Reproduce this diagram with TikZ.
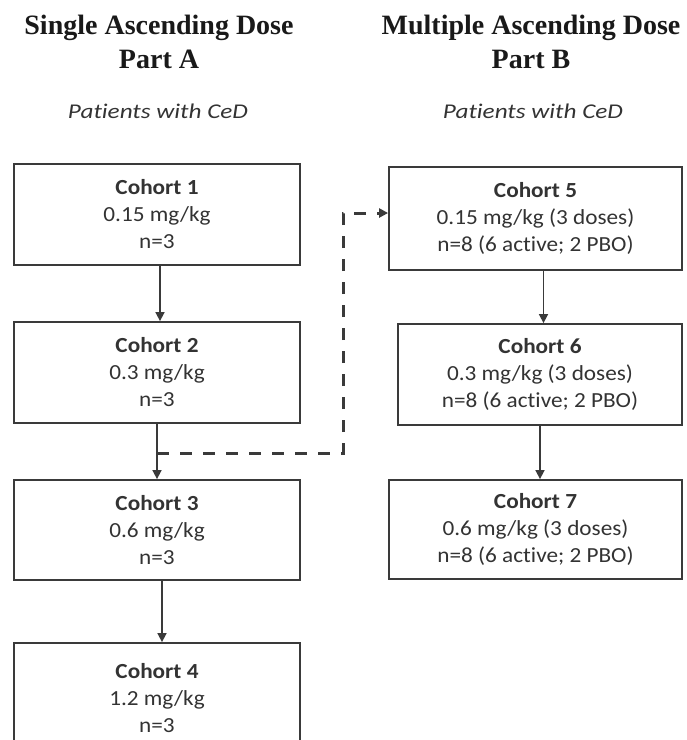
\documentclass[tikz,border=0pt]{standalone}
\usepackage{fontspec}
\setmainfont{Carlito}[FakeStretch=1.08, Ligatures=NoCommon]
\newfontfamily\subfont{Carlito}[FakeStretch=1.2, Ligatures=NoCommon]
\newfontfamily\headfont{Liberation Serif}
\usetikzlibrary{arrows.meta}
\definecolor{boxline}{HTML}{3A3A3A}
\definecolor{txt}{HTML}{333333}
\begin{document}
\begin{tikzpicture}[x=1pt,y=-1pt,
  cohort/.style={draw=boxline, line width=1.8pt, fill=white, align=center, text=txt,
    font=\fontsize{21.5}{27}\selectfont, inner sep=0pt},
  heading/.style={anchor=base, font=\headfont\bfseries\fontsize{28}{32}\selectfont, text=black!90},
  sub/.style={anchor=base, font=\subfont\itshape\fontsize{21}{24}\selectfont, text=txt},
  arr/.style={draw=boxline, line width=1.6pt, -{Triangle[length=9pt,width=9pt]}},
  dashline/.style={draw=boxline, line width=3pt, dash pattern=on 12pt off 11pt, -{Triangle[length=9pt,width=9pt]}}]
\useasboundingbox (0,0) rectangle (687,740);
\clip (0,0) rectangle (687,740);
% headings
\node[heading] (hA1) at (159,34) {Single Ascending Dose};
\node[heading] (hA2) at (159,68) {Part A};
\node[heading] (hB1) at (531,34) {Multiple Ascending Dose};
\node[heading] (hB2) at (531,68) {Part B};
\node[sub] (sA) at (158,118) {Patients with CeD};
\node[sub] (sB) at (533,118) {Patients with CeD};
% Part A cohorts
\node[cohort, minimum width=286pt, minimum height=101pt] (c1) at (157,214.5) {\textbf{Cohort 1}\\0.15 mg/kg\\n=3};
\node[cohort, minimum width=286pt, minimum height=101pt] (c2) at (157,372.5) {\textbf{Cohort 2}\\0.3 mg/kg\\n=3};
\node[cohort, minimum width=286pt, minimum height=100pt] (c3) at (157,530) {\textbf{Cohort 3}\\0.6 mg/kg\\n=3};
\node[cohort, minimum width=286pt, minimum height=110pt] (c4) at (157,698) {\textbf{Cohort 4}\\1.2 mg/kg\\n=3};
% Part B cohorts
\node[cohort, minimum width=293pt, minimum height=103pt] (c5) at (535.5,218.5) {\textbf{Cohort 5}\\0.15 mg/kg (3 doses)\\n=8 (6 active; 2 PBO)};
\node[cohort, minimum width=284pt, minimum height=101pt] (c6) at (540,374.5) {\textbf{Cohort 6}\\0.3 mg/kg (3 doses)\\n=8 (6 active; 2 PBO)};
\node[cohort, minimum width=293pt, minimum height=99pt] (c7) at (535.5,529.5) {\textbf{Cohort 7}\\0.6 mg/kg (3 doses)\\n=8 (6 active; 2 PBO)};
% arrows
\draw[arr] ([xshift=3pt]c1.south) -- ([xshift=3pt]c1.south |- c2.north);
\draw[arr] (c2.south) -- (c3.north);
\draw[arr] ([xshift=5pt]c3.south) -- ([xshift=5pt]c3.south |- c4.north);
\draw[arr] ([xshift=8pt]c5.south) -- ([xshift=8pt]c5.south |- c6.north);
\draw[arr] (c6.south) -- (c6.south |- c7.north);
% dashed connector
\coordinate (dstart) at (157,453);
\coordinate (dturn) at (343,213);
\draw[dashline] (dstart) -| (dturn) -- (dturn -| c5.west);
\end{tikzpicture}
\end{document}
